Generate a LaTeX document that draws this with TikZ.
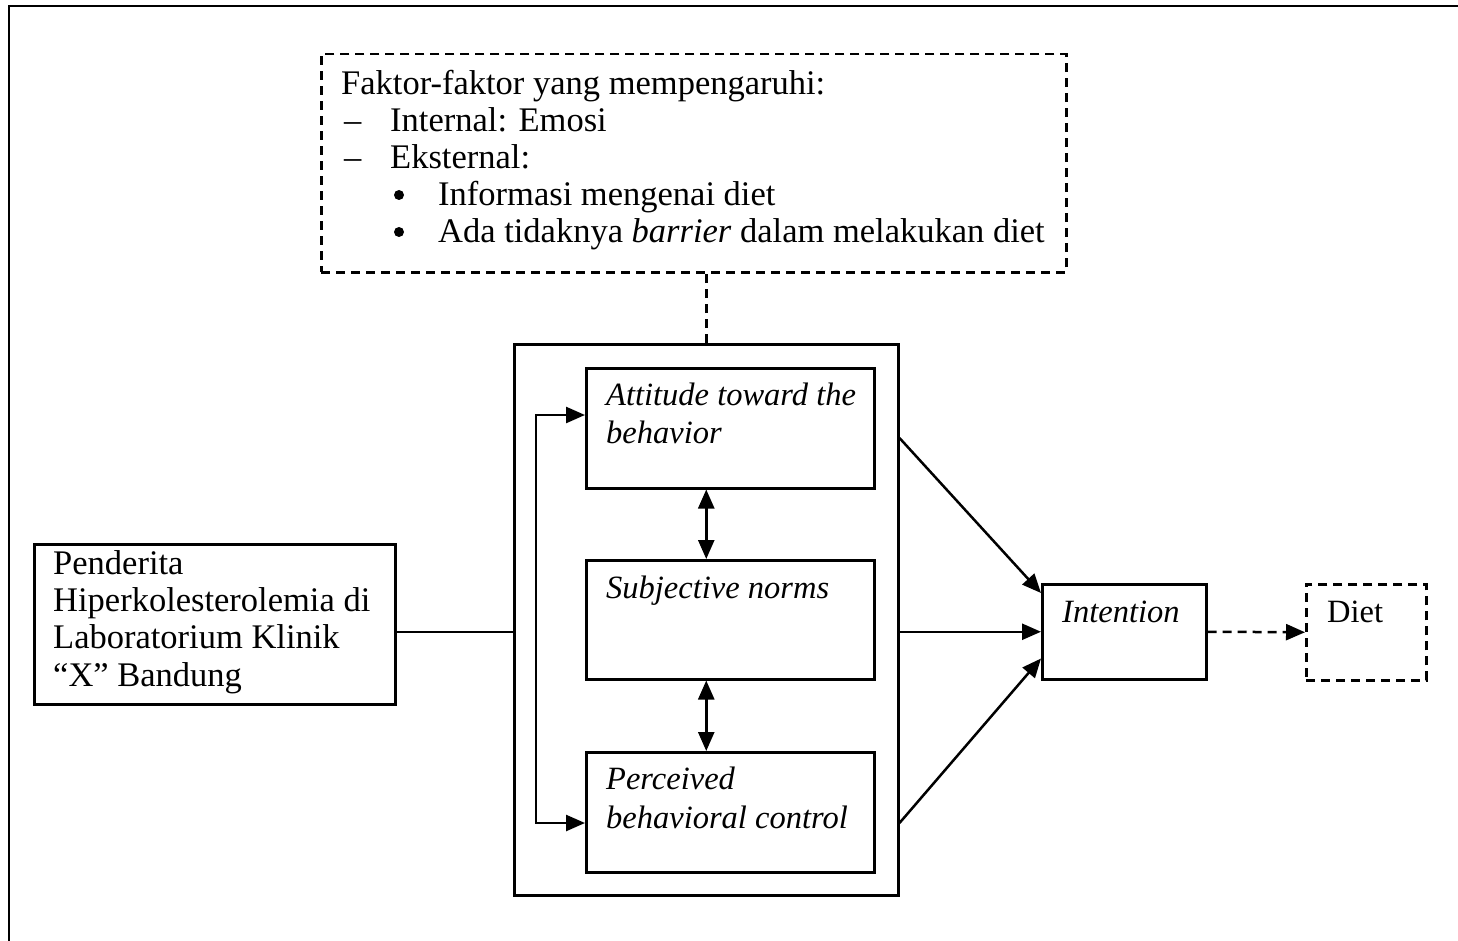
\documentclass[tikz,border=0pt]{standalone}
\usepackage{fontspec}
\setmainfont{Liberation Serif}
\usetikzlibrary{arrows.meta,calc}
\newcommand{\fsz}{\fontsize{34.5}{37}\selectfont}
\newcommand{\fsi}{\fontsize{32.5}{37}\selectfont\itshape}
\tikzset{
  box/.style={draw, line width=2.5pt, inner sep=0pt, anchor=north west},
  dbox/.style={box, dash pattern=on 9pt off 6pt},
  txt/.style={anchor=base west, inner sep=0pt, font=\fsz},
  itxt/.style={anchor=base west, inner sep=0pt, font=\fsi},
  bul/.style={circle, fill, inner sep=0pt, minimum size=10pt},
  con/.style={line width=2.5pt},
  arr/.style={con, -{Triangle[length=19pt,width=16pt]}},
  dbl/.style={con, {Triangle[length=19pt,width=16pt]}-{Triangle[length=19pt,width=16pt]}},
  dcon/.style={con, dash pattern=on 9pt off 6pt},
}
\begin{document}
\begin{tikzpicture}[x=1pt,y=-1pt]
\useasboundingbox (0,0) rectangle (1458,941);
% outer frame (top and left only)
\draw[line width=2.8pt] (1458,6) -- (9,6) -- (9,941);

% boxes
\node[dbox, minimum width=745pt, minimum height=218pt] (fac) at (320,53) {};
\node[box, minimum width=384pt, minimum height=551pt] (big) at (513,343) {};
\node[box, minimum width=288pt, minimum height=120pt] (att) at (585,367) {};
\node[box, minimum width=288pt, minimum height=119pt] (sub) at (585,559) {};
\node[box, minimum width=288pt, minimum height=120pt] (pbc) at (585,751) {};
\node[box, minimum width=361pt, minimum height=160pt] (pen) at (33,543) {};
\node[box, minimum width=164pt, minimum height=95pt] (int) at (1041,583) {};
\node[dbox, minimum width=120pt, minimum height=96pt] (diet) at (1305,583) {};

% texts
\node[txt] (f1) at (341,95) {Faktor-faktor yang mempengaruhi:};
\node[txt] (f2d) at (344,132) {–};
\node[txt] (f2) at (390,132) {Internal: Emosi};
\node[txt] (f3d) at (344,169) {–};
\node[txt] (f3) at (390,169) {Eksternal:};
\node[bul] (f4d) at (399,195) {};
\node[txt] (f4) at (438,206) {Informasi mengenai diet};
\node[bul] (f5d) at (399,232) {};
\node[txt] (f5) at (438,243) {Ada tidaknya \textit{barrier} dalam melakukan diet};

\node[itxt] (a1) at (606,405) {Attitude toward the};
\node[itxt] (a2) at (606,443) {behavior};
\node[itxt] (s1) at (606,598) {Subjective norms};
\node[itxt] (p1) at (606,789) {Perceived};
\node[itxt] (p2) at (606,828) {behavioral control};

\node[txt] (t1) at (53,574) {Penderita};
\node[txt] (t2) at (53,611) {Hiperkolesterolemia di};
\node[txt] (t3) at (53,648) {Laboratorium Klinik};
\node[txt] (t4) at (53,686) {“X” Bandung};

\node[itxt] (i1) at (1062,622) {Intention};
\node[txt, font=\fontsize{32.5}{37}\selectfont] (d1) at (1327,622) {Diet};

% connectors
\draw[dcon] (big.north) -- (big.north |- fac.south);
\draw[con] (pen.east |- int.west) -- (big.west |- int.west);
\draw[dbl] ($(att.north west)+(0,48)$) -- ++(-49,0) |- ($(pbc.north west)+(0,72)$);
\draw[dbl] (big.north |- att.south) -- (big.north |- sub.north);
\draw[dbl] (big.north |- sub.south) -- (big.north |- pbc.north);
\draw[arr] ($(big.north east)+(0,95)$) -- ($(int.north west)+(0,10)$);
\draw[arr] (big.east |- int.west) -- (int.west);
\draw[arr] ($(big.north east)+(0,480)$) -- ($(int.south west)+(0,-22)$);
\draw[dcon, -{Triangle[length=19pt,width=16pt]}] (int.east) -- (diet.west);
\end{tikzpicture}
\end{document}
